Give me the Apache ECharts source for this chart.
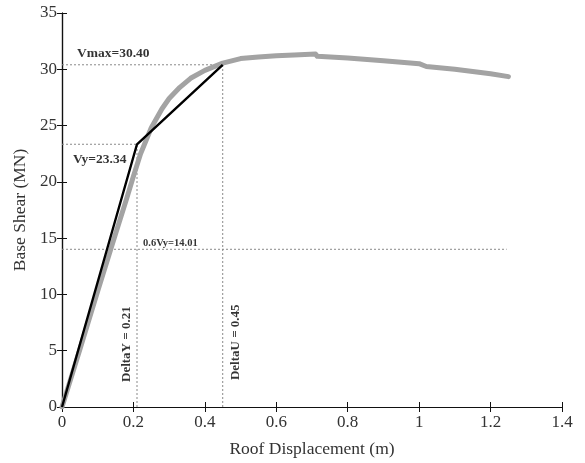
<!DOCTYPE html>
<html>
<head>
<meta charset="utf-8">
<script src="https://cdn.jsdelivr.net/npm/echarts@6/dist/echarts.min.js"></script>
<style>
  html, body { margin: 0; padding: 0; background: #fff; }
  #chart { width: 585px; height: 463px; }
</style>
</head>
<body>
<div id="chart"></div>
<script>
// Pushover capacity curve (roof displacement in m, base shear in MN)
const pushoverDisp  = [0, 0.05, 0.10, 0.15, 0.18, 0.20, 0.22, 0.25, 0.28, 0.30, 0.33, 0.36, 0.40, 0.45, 0.50, 0.55, 0.60, 0.65, 0.71, 0.715, 0.80, 0.90, 1.00, 1.02, 1.10, 1.20, 1.25];
const pushoverShear = [0, 5.1, 10.3, 15.4, 18.4, 20.5, 22.5, 24.8, 26.5, 27.4, 28.4, 29.2, 29.9, 30.55, 30.95, 31.1, 31.2, 31.27, 31.35, 31.15, 31.0, 30.75, 30.5, 30.25, 30.0, 29.6, 29.35];

// Idealised bilinear curve
const deltaY = 0.21, vy = 23.34;
const deltaU = 0.45, vmax = 30.40;
const point6Vy = 14.01;
const bilinearDisp  = [0, deltaY, deltaU];
const bilinearShear = [0, vy, vmax];
const refLineEnd = 1.245;

const xTicks = { min: 0, max: 1.4, interval: 0.2 };
const yTicks = { min: 0, max: 35, interval: 5 };

const serif = '"Liberation Serif", "DejaVu Serif", serif';
const zip = (a, b) => a.map((v, i) => [v, b[i]]);

const dotted = { color: '#8a8a8a', width: 1, type: [2, 2] };
function refLine(pts) {
  return { type: 'line', data: pts, symbol: 'none', silent: true, lineStyle: dotted, z: 1 };
}
function note(text, at, size, rotate) {
  return {
    type: 'scatter', data: [at], symbolSize: 0, silent: true, z: 5,
    label: {
      show: true, formatter: text, position: [0, 0],
      align: rotate ? 'center' : 'left', verticalAlign: 'middle',
      rotate: rotate || 0,
      fontFamily: serif, fontWeight: 'bold', fontSize: size, color: '#000'
    }
  };
}

const chart = echarts.init(document.getElementById('chart'));
const axisLine = { show: true, lineStyle: { color: '#111', width: 1.2 } };
const axisTick = { show: true, inside: true, length: 5, lineStyle: { color: '#111' } };
const tickLabel = { fontFamily: serif, fontSize: 17, color: '#333' };

chart.setOption({
  animation: false,
  grid: { left: 62, right: 23, top: 13, bottom: 55 },
  xAxis: [
    {
      type: 'value', ...xTicks, position: 'bottom',
      axisLine, axisTick, splitLine: { show: false },
      axisLabel: { ...tickLabel, margin: 7 },
      name: 'Roof Displacement (m)', nameLocation: 'middle', nameGap: 33,
      nameTextStyle: { fontFamily: serif, fontSize: 17.5, color: '#333' }
    },
    {
      type: 'value', ...xTicks, position: 'top',
      axisLine, axisTick, axisLabel: { show: false }, splitLine: { show: false }
    }
  ],
  yAxis: [
    {
      type: 'value', ...yTicks, position: 'left',
      axisLine, axisTick, splitLine: { show: false },
      axisLabel: { ...tickLabel, margin: 5 },
      name: 'Base Shear (MN)', nameLocation: 'middle', nameGap: 31,
      nameTextStyle: { fontFamily: serif, fontSize: 17.5, color: '#333' }
    },
    {
      type: 'value', ...yTicks, position: 'right',
      axisLine, axisTick, axisLabel: { show: false }, splitLine: { show: false }
    }
  ],
  series: [
    refLine([[0, vmax], [deltaU, vmax]]),
    refLine([[0, vy], [deltaY, vy]]),
    refLine([[0, point6Vy], [refLineEnd, point6Vy]]),
    refLine([[deltaY, 0], [deltaY, vy]]),
    refLine([[deltaU, 0], [deltaU, vmax]]),
    {
      type: 'line', data: zip(pushoverDisp, pushoverShear), symbol: 'none', z: 2,
      lineStyle: { color: '#a3a3a3', width: 5, cap: 'round', join: 'round' }
    },
    {
      type: 'line', data: zip(bilinearDisp, bilinearShear), symbol: 'none', z: 3,
      lineStyle: { color: '#000', width: 2.4 }
    },
    note('Vmax=' + vmax.toFixed(2), [0.042, 31.4], 13.5),
    note('Vy=' + vy.toFixed(2), [0.031, 21.97], 13.5),
    note('0.6Vy=' + point6Vy.toFixed(2), [0.227, 14.55], 10.5),
    note('DeltaY = ' + deltaY.toFixed(2), [0.182, 5.58], 13, 90),
    note('DeltaU = ' + deltaU.toFixed(2), [0.485, 5.75], 13, 90)
  ]
});
</script>
</body>
</html>
